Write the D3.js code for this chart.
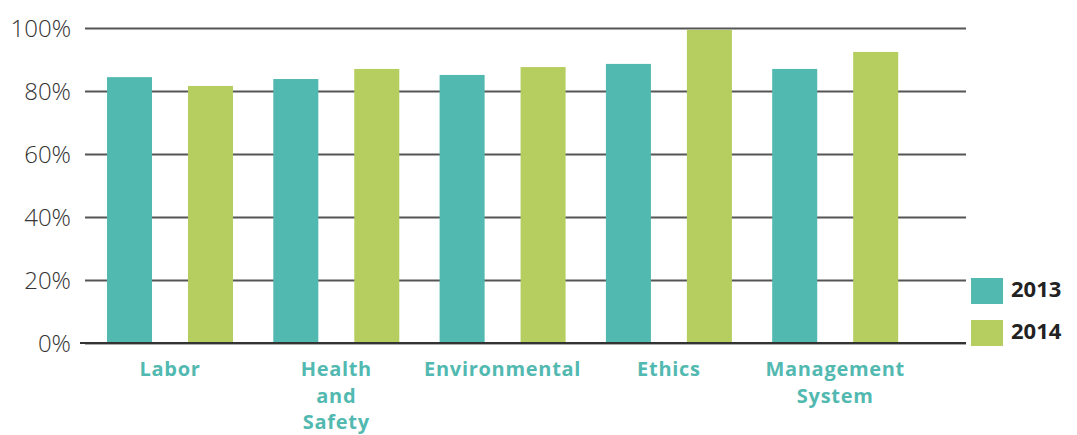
<!DOCTYPE html>
<html>
<head>
<meta charset="utf-8">
<script src="https://cdn.jsdelivr.net/npm/d3@7"></script>
<style>
  html, body { margin: 0; padding: 0; background: #fff; }
  svg { display: block; }
</style>
</head>
<body>
<svg id="chart" width="1077" height="435"></svg>
<script>
// Audit scores by category, 2013 vs 2014 (percent)
const categories = ["Labor", "Health and Safety", "Environmental", "Ethics", "Management System"];
const categoryLines = [["Labor"], ["Health", "and", "Safety"], ["Environmental"], ["Ethics"], ["Management", "System"]];
const years = ["2013", "2014"];
const values2013 = [84.4, 83.8, 85.1, 88.6, 87.0];
const values2014 = [81.6, 87.0, 87.6, 99.4, 92.4];
const yTicks = [0, 20, 40, 60, 80, 100];

const colors = { "2013": "#52B9B1", "2014": "#B6CE5F" };
const seriesByYear = { "2013": values2013, "2014": values2014 };

const svg = d3.select("#chart");

const gridLeft = 85, gridRight = 966;
const yTop = 28, yBottom = 343;

const y = d3.scaleLinear().domain([0, 100]).range([yBottom, yTop]);

const x0 = d3.scaleBand()
  .domain(categories)
  .range([86.85, 918.35])
  .paddingInner(0.2423)
  .paddingOuter(0.12115);

const x1 = d3.scaleBand()
  .domain(years)
  .range([0, x0.bandwidth()])
  .paddingInner(0.444)
  .paddingOuter(0);

// horizontal gridlines with percent labels
const yAxis = svg.append("g")
  .attr("transform", `translate(${gridLeft},0)`)
  .call(d3.axisLeft(y)
    .tickValues(yTicks)
    .tickSize(-(gridRight - gridLeft))
    .tickPadding(14)
    .tickFormat(d => d + "%"));
yAxis.select(".domain").remove();
yAxis.selectAll(".tick line")
  .attr("stroke", "#555")
  .attr("stroke-width", 2);
yAxis.selectAll(".tick text")
  .attr("font-family", "'Open Sans', sans-serif")
  .attr("font-weight", 300)
  .attr("font-size", 24)
  .attr("fill", "#333")
  .attr("dy", "0.34em");

// bars
const groups = svg.append("g").selectAll("g")
  .data(categories)
  .join("g")
  .attr("transform", d => `translate(${x0(d)},0)`);

groups.selectAll("rect")
  .data((d, i) => years.map(yr => ({ year: yr, value: seriesByYear[yr][i] })))
  .join("rect")
  .attr("x", d => x1(d.year))
  .attr("width", x1.bandwidth())
  .attr("y", d => y(d.value))
  .attr("height", d => y(0) - y(d.value))
  .attr("fill", d => colors[d.year]);

// baseline
svg.append("line")
  .attr("x1", 80).attr("x2", gridRight)
  .attr("y1", y(0)).attr("y2", y(0))
  .attr("stroke", "#333")
  .attr("stroke-width", 2);

// category labels
const xAxis = svg.append("g")
  .attr("transform", `translate(0,${y(0)})`)
  .call(d3.axisBottom(x0).tickSize(0).tickFormat(() => ""));
xAxis.select(".domain").remove();
xAxis.selectAll(".tick text").each(function (d, i) {
  const t = d3.select(this)
    .attr("font-family", "'Open Sans', sans-serif")
    .attr("font-weight", 700)
    .attr("font-size", 20)
    .attr("letter-spacing", "0.7px")
    .attr("fill", "#52B9B1")
    .attr("text-anchor", "middle")
    .attr("y", 0)
    .attr("dy", null);
  categoryLines[i].forEach((line, k) => {
    t.append("tspan")
      .attr("x", 0)
      .attr("y", 33 + k * 26.5)
      .text(line);
  });
});

// legend
const legend = svg.append("g").selectAll("g")
  .data(years)
  .join("g")
  .attr("transform", (d, i) => `translate(971,${278 + i * 42})`);
legend.append("rect")
  .attr("width", 32)
  .attr("height", 26)
  .attr("fill", d => colors[d]);
legend.append("text")
  .attr("x", 40)
  .attr("y", 19)
  .attr("font-family", "'Open Sans', sans-serif")
  .attr("font-weight", 700)
  .attr("font-size", 22)
  .attr("fill", "#222")
  .text(d => d);
</script>
</body>
</html>
